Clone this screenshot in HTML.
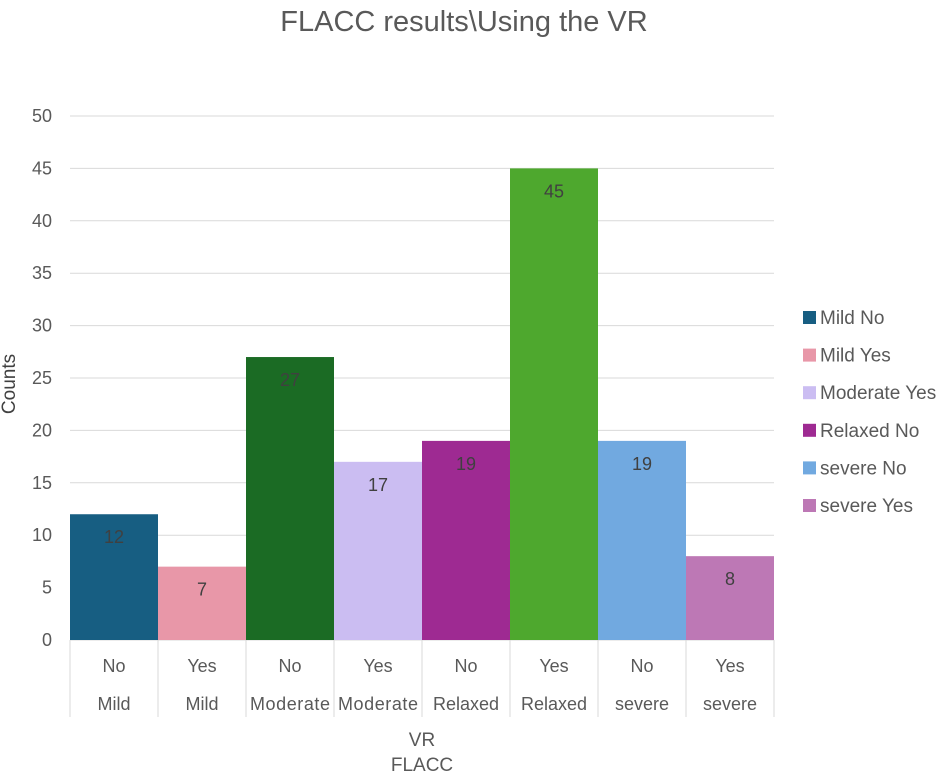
<!DOCTYPE html>
<html><head><meta charset="utf-8"><style>
body{margin:0;background:#fff;font-family:"Liberation Sans",sans-serif}
svg text{font-family:"Liberation Sans",sans-serif}
</style></head><body>
<svg id="c" width="939" height="774" xmlns="http://www.w3.org/2000/svg">
<text x="464" y="31" text-anchor="middle" font-size="29" fill="#595959">FLACC results\Using the VR</text>
<text transform="translate(15,384) rotate(-90)" text-anchor="middle" font-size="19" fill="#404040">Counts</text>
<text x="422" y="746" text-anchor="middle" font-size="19" fill="#595959">VR</text>
<text x="422" y="771" text-anchor="middle" font-size="19" fill="#595959">FLACC</text>
<g id="grid"></g><g id="bars"></g><g id="xl"></g><g id="leg"></g>
</svg>
<script>
const answers=["No","Yes","No","Yes","No","Yes","No","Yes"];
const groups=["Mild","Mild","Moderate","Moderate","Relaxed","Relaxed","severe","severe"];
const values=[12,7,27,17,19,45,19,8];
const colors=["#175e82","#e897a8","#1b6b24","#cbbdf2","#9e2a92","#4ea82e","#71a9e0","#bd78b5"];
const yTicks=[0,5,10,15,20,25,30,35,40,45,50];
const legendLabels=["Mild No","Mild Yes","Moderate Yes","Relaxed No","severe No","severe Yes"];
const legendColors=["#175e82","#e897a8","#cbbdf2","#9e2a92","#71a9e0","#bd78b5"];
const NS="http://www.w3.org/2000/svg";
const x0=70,bw=88,y0=640,yTop=116,yMax=50;
const y=v=>y0-(v/yMax)*(y0-yTop);
const xb=i=>x0+i*bw;
function mk(t,a,p,txt){const e=document.createElementNS(NS,t);for(const k in a)e.setAttribute(k,a[k]);if(txt!==undefined)e.textContent=txt;p.appendChild(e);return e;}
const g=document.getElementById('grid');
yTicks.forEach(t=>{
 const l=mk('line',{x1:x0,x2:xb(values.length),y1:y(t),y2:y(t),stroke:'#d9d9d9','stroke-width':1},g);
 
 
 const tx=mk('text',{x:52,y:y(t)+6,'text-anchor':'end','font-size':18,fill:'#595959'},g,t);
 
 
});
const b=document.getElementById('bars');
values.forEach((v,i)=>{
 const r=mk('rect',{x:xb(i),y:y(v),width:bw,height:y0-y(v),fill:colors[i]},b);
 
 
 const t=mk('text',{x:xb(i)+bw/2,y:y(v)+29,'text-anchor':'middle','font-size':18,fill:'#404040'},b,v);
 
 
});
const xl=document.getElementById('xl');
for(let i=0;i<=values.length;i++){
 const l=mk('line',{x1:xb(i),x2:xb(i),y1:y0,y2:717,stroke:'#d9d9d9','stroke-width':1},xl);
 
 
}
values.forEach((v,i)=>{
 const a=mk('text',{x:xb(i)+bw/2,y:672,'text-anchor':'middle','font-size':18,fill:'#595959'},xl,answers[i]);
 
 
 const c=mk('text',{x:xb(i)+bw/2,y:710,'text-anchor':'middle','font-size':18,fill:'#595959'},xl,groups[i]);
 if(groups[i].length>7)c.setAttribute('textLength',80);
 
 
});
const lg=document.getElementById('leg');
legendLabels.forEach((s,i)=>{
 const yy=317+i*37.6;
 const r=mk('rect',{x:803,y:yy-6,width:13,height:13,fill:legendColors[i]},lg);
 
 
 const t=mk('text',{x:820,y:yy+7,'font-size':19,fill:'#595959'},lg,s);
 
 
});
</script>
</body></html>
